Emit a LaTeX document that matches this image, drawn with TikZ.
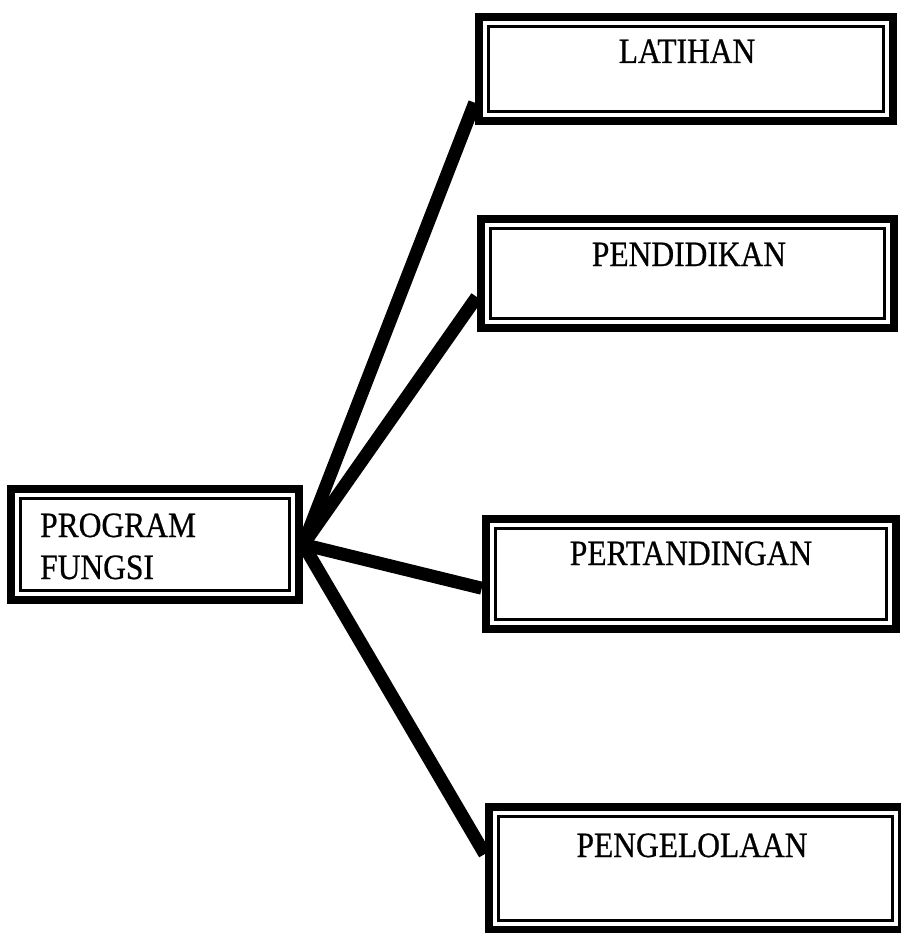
\documentclass[tikz,border=0pt]{standalone}
\usepackage{fontspec}
\setmainfont[FakeBold=0.7]{Liberation Serif}
\usetikzlibrary{calc,backgrounds}
\newcommand{\vstr}[1]{\scalebox{1}[1.13]{#1}}
\tikzset{
  dbox/.style={draw, fill=white, line width=8.5pt, inner sep=0pt, rectangle,
    path picture={\draw[line width=2.5pt] ([shift={(9.5pt,-9.5pt)}]path picture bounding box.north west) rectangle ([shift={(-9.5pt,9.5pt)}]path picture bounding box.south east);}},
  link/.style={line width=13pt},
  lbl/.style={anchor=base, inner sep=0pt, font=\fontsize{31.5}{36}\selectfont},
}
\begin{document}
\begin{tikzpicture}[x=1pt,y=-1pt]
\useasboundingbox (0,0) rectangle (900,933);
\node[dbox, minimum width=288pt, minimum height=111pt] (prog) at (155,544.5) {};
\node[dbox, minimum width=414pt, minimum height=104pt] (lat) at (686,69) {};
\node[dbox, minimum width=413pt, minimum height=109pt] (pen) at (687.5,273.5) {};
\node[dbox, minimum width=410pt, minimum height=110pt] (per) at (691,574) {};
\node[dbox, minimum width=413pt, minimum height=123pt] (pgl) at (695.5,868.5) {};

\node[lbl, anchor=base west] (t0a) at (40,537) {\vstr{PROGRAM}};
\node[lbl, anchor=base west] (t0b) at (40,579) {\vstr{FUNGSI}};
\node[lbl] (t1) at (687,63) {\vstr{LATIHAN}};
\node[lbl] (t2) at (689,266) {\vstr{PENDIDIKAN}};
\node[lbl] (t3) at (691,565) {\vstr{PERTANDINGAN}};
\node[lbl] (t4) at (692,857) {\vstr{PENGELOLAAN}};

\coordinate (s0) at (prog.east);
\coordinate (e1) at ($(lat.north west)!0.8!(lat.south west)$);
\coordinate (e2) at ($(pen.north west)!0.7!(pen.south west)$);
\coordinate (e3) at ($(per.north west)!0.62!(per.south west)$);
\coordinate (e4) at ($(pgl.north west)!0.39!(pgl.south west)$);
\begin{pgfonlayer}{background}
\draw[link] (s0) -- (e1);
\draw[link] (s0) -- (e2);
\draw[link] (s0) -- (e3);
\draw[link] (s0) -- (e4);
\end{pgfonlayer}
\end{tikzpicture}
\end{document}
